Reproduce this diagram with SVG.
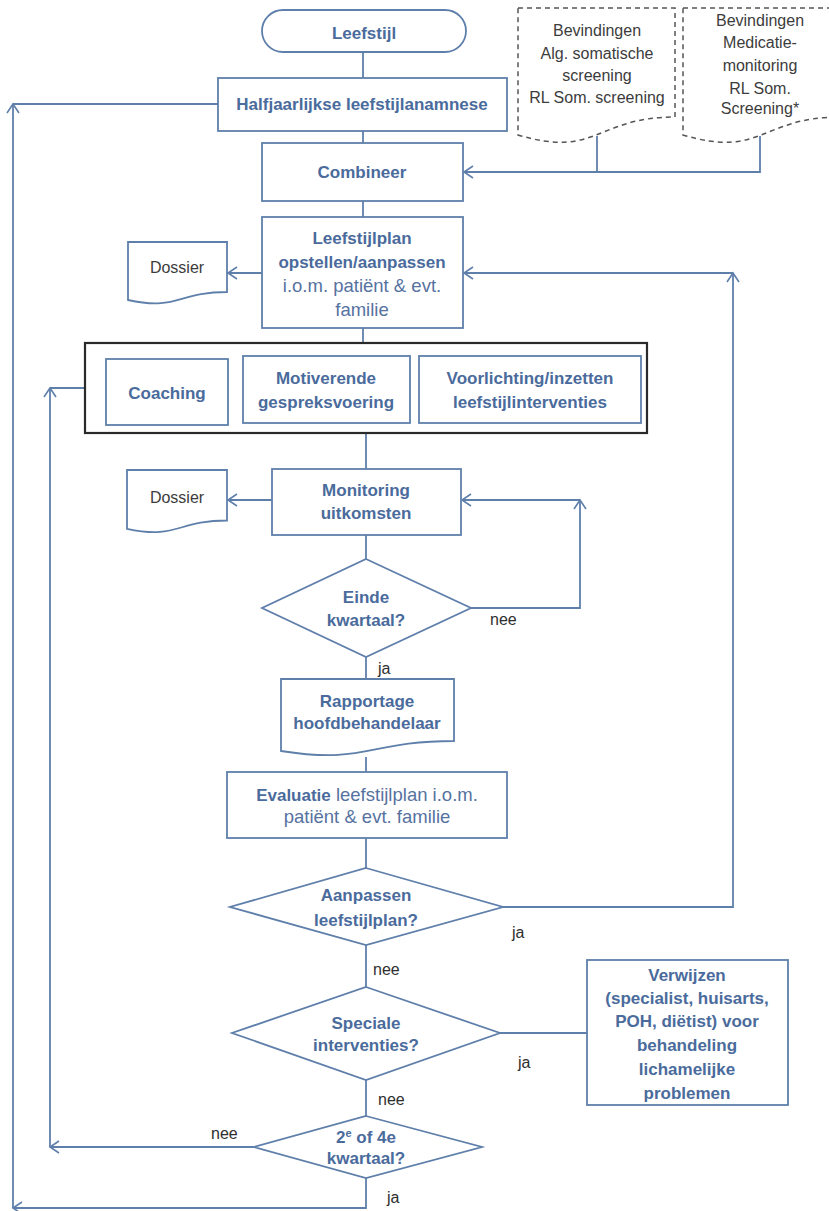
<svg xmlns="http://www.w3.org/2000/svg" width="829" height="1211" viewBox="0 0 829 1211">
<style>
.n{fill:#fff;stroke:#5f7fab;stroke-width:1.8}
.g{fill:#fff;stroke:#2a2a2a;stroke-width:2.2}
.d{fill:#fff;stroke:#555;stroke-width:1.5;stroke-dasharray:5 4}
.c{fill:none;stroke:#5f7fab;stroke-width:1.8}
.a{marker-end:url(#ah)}
text{font-family:"Liberation Sans",Arial,sans-serif;text-anchor:middle}
.b{font-size:17px;font-weight:bold;fill:#4a6b9c}
.r{font-size:18.5px;fill:#56729f}
.k{font-size:16px;fill:#3c3c3c}
.l{font-size:16px;fill:#2e2e2e;text-anchor:start}
</style>
<defs>
<marker id="ah" markerWidth="12" markerHeight="14" refX="10" refY="7" orient="auto" markerUnits="userSpaceOnUse">
<path d="M1,1 L10,7 L1,13" fill="none" stroke="#5f7fab" stroke-width="1.6"/>
</marker>
</defs>

<g id="connectors">
<path class="c" d="M363,52 V78"/>
<path class="c" d="M363,131 V143"/>
<path class="c" d="M363,201 V217"/>
<path class="c" d="M363,328 V343"/>
<path class="c" d="M366,434 V469"/>
<path class="c" d="M366,535 V559"/>
<path class="c" d="M366,657 V679"/>
<path class="c" d="M366,757 V772"/>
<path class="c" d="M366,838 V868"/>
<path class="c" d="M366,945 V987"/>
<path class="c" d="M366,1080 V1116"/>
<path class="c" d="M500,1033 H587"/>
<path class="c" d="M597,136 V172"/>
<path class="c a" d="M760,136 V172 H464"/>
<path class="c a" d="M262,273 H228"/>
<path class="c a" d="M272,500 H228"/>
<path class="c a" d="M471,608 H580 V500"/>
<path class="c a" d="M580,500 H462"/>
<path class="c a" d="M503,907 H733 V273"/>
<path class="c a" d="M733,273 H464"/>
<path class="c a" d="M254,1147 H50"/>
<path class="c a" d="M50,1147 V388"/>
<path class="c" d="M50,388 H85"/>
<path class="c a" d="M366,1178 V1208 H13"/>
<path class="c a" d="M13,1208 V104"/>
<path class="c" d="M13,104 H218"/>
<text class="l" x="490" y="625">nee</text>
<text class="l" x="378" y="674">ja</text>
<text class="l" x="512" y="938">ja</text>
<text class="l" x="373" y="975">nee</text>
<text class="l" x="518" y="1068">ja</text>
<text class="l" x="378" y="1105">nee</text>
<text class="l" x="211" y="1139">nee</text>
<text class="l" x="387" y="1203">ja</text>
</g>

<g id="leefstijl">
<rect class="n" x="262" y="10" width="204" height="42" rx="21"/>
<text class="b" x="364" y="39">Leefstijl</text>
</g>
<g id="halfjaarlijkse">
<rect class="n" x="218" y="78" width="289" height="53"/>
<text class="b" x="362" y="110">Halfjaarlijkse leefstijlanamnese</text>
</g>
<g id="bevindingen1">
<path class="d" d="M518,8 H675 V117 C596.5,117 596.5,158.6 518,135 Z"/>
<text class="k" x="597" y="36">Bevindingen</text>
<text class="k" x="597" y="59">Alg. somatische</text>
<text class="k" x="597" y="81">screening</text>
<text class="k" x="597" y="103">RL Som. screening</text>
</g>
<g id="bevindingen2">
<path class="d" d="M683,8 H840 V117 C761.5,117 761.5,158.6 683,135 Z"/>
<text class="k" x="760" y="26">Bevindingen</text>
<text class="k" x="760" y="48">Medicatie-</text>
<text class="k" x="760" y="71">monitoring</text>
<text class="k" x="760" y="94">RL Som.</text>
<text class="k" x="760" y="114">Screening*</text>
</g>
<g id="combineer">
<rect class="n" x="262" y="143" width="201" height="58"/>
<text class="b" x="362" y="178">Combineer</text>
</g>
<g id="leefstijlplan">
<rect class="n" x="262" y="217" width="201" height="111"/>
<text class="b" x="362" y="244">Leefstijlplan</text>
<text class="b" x="362" y="268">opstellen/aanpassen</text>
<text class="r" x="362" y="292">i.o.m. patiënt &amp; evt.</text>
<text class="r" x="362" y="316">familie</text>
</g>
<g id="dossier1">
<path class="n" d="M128,242 H227 V292 C177.5,292 177.5,311 128,300 Z"/>
<text class="k" x="177" y="273">Dossier</text>
</g>
<g id="interventies">
<rect class="g" x="85" y="343" width="562" height="90"/>
<g id="coaching">
<rect class="n" x="106" y="359" width="122" height="66"/>
<text class="b" x="167" y="399">Coaching</text>
</g>
<g id="motiverende">
<rect class="n" x="243" y="356" width="167" height="67"/>
<text class="b" x="326" y="384">Motiverende</text>
<text class="b" x="326" y="408">gespreksvoering</text>
</g>
<g id="voorlichting">
<rect class="n" x="419" y="356" width="222" height="67"/>
<text class="b" x="530" y="384">Voorlichting/inzetten</text>
<text class="b" x="530" y="408">leefstijlinterventies</text>
</g>
</g>
<g id="monitoring">
<rect class="n" x="272" y="469" width="189" height="66"/>
<text class="b" x="366" y="496">Monitoring</text>
<text class="b" x="366" y="519">uitkomsten</text>
</g>
<g id="dossier2">
<path class="n" d="M127,470 H227 V520.5 C177,520.5 177,539.7 127,528.8 Z"/>
<text class="k" x="177" y="503">Dossier</text>
</g>
<g id="einde">
<polygon class="n" points="366,559 471,608 366,657 262,608"/>
<text class="b" x="366" y="603">Einde</text>
<text class="b" x="366" y="626">kwartaal?</text>
</g>
<g id="rapportage">
<path class="n" d="M281,679 H454 V741 C367.5,741 367.5,764.6 281,751 Z"/>
<text class="b" x="367" y="707">Rapportage</text>
<text class="b" x="367" y="729">hoofdbehandelaar</text>
</g>
<g id="evaluatie">
<rect class="n" x="227" y="772" width="280" height="66"/>
<text x="367" y="801"><tspan class="b">Evaluatie</tspan><tspan class="r"> leefstijlplan i.o.m.</tspan></text>
<text class="r" x="367" y="823">patiënt &amp; evt. familie</text>
</g>
<g id="aanpassen">
<polygon class="n" points="366,868 503,907 366,945 230,907"/>
<text class="b" x="366" y="901">Aanpassen</text>
<text class="b" x="366" y="926">leefstijlplan?</text>
</g>
<g id="speciale">
<polygon class="n" points="366,987 500,1033 366,1080 232,1033"/>
<text class="b" x="366" y="1029">Speciale</text>
<text class="b" x="366" y="1051">interventies?</text>
</g>
<g id="verwijzen">
<rect class="n" x="587" y="960" width="201" height="145"/>
<text class="b" x="687" y="981">Verwijzen</text>
<text class="b" x="687" y="1004">(specialist, huisarts,</text>
<text class="b" x="687" y="1027">POH, diëtist) voor</text>
<text class="b" x="687" y="1051">behandeling</text>
<text class="b" x="687" y="1075">lichamelijke</text>
<text class="b" x="687" y="1099">problemen</text>
</g>
<g id="kwartaal24">
<polygon class="n" points="366,1116 482,1147 366,1178 254,1147"/>
<text class="b" x="366" y="1143">2<tspan font-size="11" dy="-6">e</tspan><tspan dy="6"> of 4e</tspan></text>
<text class="b" x="366" y="1164">kwartaal?</text>
</g>
</svg>
